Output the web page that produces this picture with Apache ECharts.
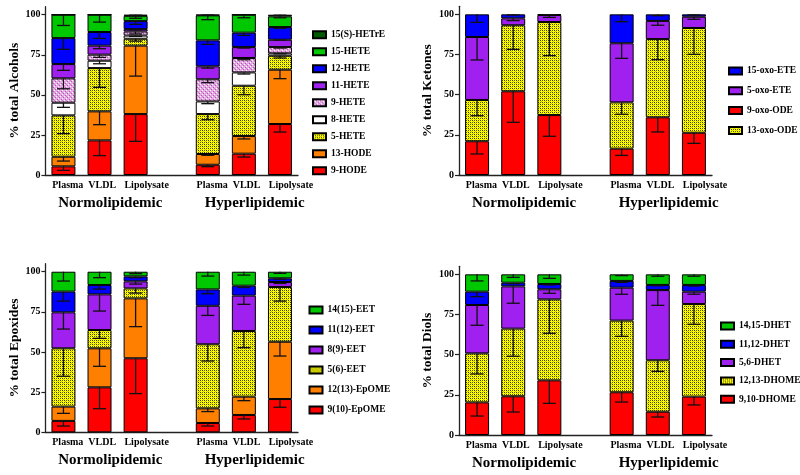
<!DOCTYPE html>
<html><head><meta charset="utf-8">
<script src="https://cdn.jsdelivr.net/npm/echarts@6/dist/echarts.min.js"></script>
<style>html,body{margin:0;padding:0;background:#fff}#c{width:800px;height:475px}</style>
</head><body><div id="c"></div>
<script>
// ---- categories / ticks ----
const cats = ['Plasma','VLDL','Lipolysate','Plasma','VLDL','Lipolysate'];
const catPos = [0,1,2,4,5,6];          // slot index of each bar (slot 3 is the gap)
const slotCount = 7;
const groups = ['Normolipidemic','Hyperlipidemic'];
const groupPos = [1.3,5.3];
const yTicks = [0,25,50,75,100];

// ---- Alcohols (bottom -> top) ----
const alcoholNames = ['9-HODE','13-HODE','5-HETE','8-HETE','9-HETE','11-HETE','12-HETE','15-HETE','15(S)-HETrE'];
const alcoholValues = [
  [5.4,21.6,38.0,6.4,13.3,31.8],
  [6.0,18.1,42.7,6.7,11.0,33.9],
  [25.8,27.0,4.3,24.9,31.4,8.7],
  [7.9,4.6,2.0,7.9,8.3,1.5],
  [15.2,3.8,2.5,13.8,9.0,3.9],
  [8.9,5.6,1.5,8.1,6.8,4.6],
  [16.2,8.5,5.0,16.2,9.0,7.9],
  [14.6,10.8,3.3,15.6,11.2,6.7],
  [0,0,0.7,0.4,0,1.0]
];
const alcoholErrors = [
  [2.5,9.5,17.0,1.2,2.1,5.0],
  [2.7,8.3,19.0,0.8,1.8,5.6],
  [11.4,12.0,1.5,3.5,5.6,1.4],
  [2.9,1.9,0.5,1.4,1.0,0.3],
  [6.5,1.7,1.5,2.1,1.1,0.6],
  [3.9,1.9,0.5,1.1,0.6,0.2],
  [7.0,4.0,2.0,2.5,1.7,0.8],
  [6.7,4.6,1.5,2.7,1.9,0.9],
  [0,0,0.3,0.2,0,0.3]
];
const alcoholLegend = ['15(S)-HETrE','15-HETE','12-HETE','11-HETE','9-HETE','8-HETE','5-HETE','13-HODE','9-HODE'];

// ---- Ketones ----
const ketoneNames = ['9-oxo-ODE','13-oxo-ODE','5-oxo-ETE','15-oxo-ETE'];
const ketoneValues = [
  [21.0,52.1,37.3,16.4,35.9,26.3],
  [25.7,41.1,57.9,28.8,48.7,65.2],
  [39.2,4.3,4.4,36.8,11.3,7.0],
  [14.1,2.5,0.4,18.0,4.1,1.5]
];
const ketoneErrors = [
  [7.9,19.3,13.2,4.2,9.1,6.6],
  [9.8,15.0,20.9,7.4,12.8,16.4],
  [14.3,1.4,1.5,9.4,2.7,1.6],
  [5.0,0.4,0.2,4.6,0.8,0.4]
];
const ketoneLegend = ['15-oxo-ETE','5-oxo-ETE','9-oxo-ODE','13-oxo-ODE'];

// ---- Epoxides ----
const epoxideNames = ['9(10)-EpOME','12(13)-EpOME','5(6)-EET','8(9)-EET','11(12)-EET','14(15)-EET'];
const epoxideValues = [
  [7.1,28.0,46.1,5.8,10.8,20.7],
  [8.9,24.3,37.3,9.1,11.4,35.7],
  [36.3,11.4,6.2,39.9,40.9,34.1],
  [22.4,22.2,4.4,24.0,22.0,3.1],
  [12.9,5.8,3.1,10.2,6.2,2.3],
  [12.4,8.3,2.9,11.0,8.7,4.1]
];
const epoxideErrors = [
  [3.2,13.3,22.0,1.9,2.5,5.1],
  [4.2,11.2,17.6,2.0,2.5,8.9],
  [17.4,5.2,2.9,10.4,10.4,8.8],
  [10.4,10.4,1.7,6.0,5.4,0.9],
  [5.9,2.5,0.8,2.7,1.1,0.5],
  [5.8,3.7,1.2,2.7,2.1,1.0]
];
const epoxideLegend = ['14(15)-EET','11(12)-EET','8(9)-EET','5(6)-EET','12(13)-EpOME','9(10)-EpOME'];

// ---- Diols ----
const diolNames = ['9,10-DHOME','12,13-DHOME','5,6-DHET','11,12-DHET','14,15-DHET'];
const diolValues = [
  [20.3,24.1,34.0,26.6,14.5,23.9],
  [30.5,42.1,50.4,44.6,32.0,57.6],
  [30.1,26.3,6.3,20.5,43.7,7.7],
  [8.3,2.3,3.3,4.2,3.2,4.2],
  [10.8,5.2,6.0,4.1,6.6,6.6]
];
const diolErrors = [
  [8.5,9.8,14.3,6.1,3.3,5.2],
  [12.8,17.2,21.1,9.8,6.9,12.6],
  [12.6,10.5,2.5,4.1,9.5,1.6],
  [3.1,0.6,0.6,0.9,0.5,0.7],
  [4.1,1.9,2.5,0.8,1.2,1.2]
];
const diolLegend = ['14,15-DHET','11,12-DHET','5,6-DHET','12,13-DHOME','9,10-DHOME'];

// ---- styles ----
function pattern(bg, dots) {
  const c = document.createElement('canvas'); c.width = 4; c.height = 4;
  const g = c.getContext('2d'); g.fillStyle = bg; g.fillRect(0,0,4,4);
  dots.forEach(d => { g.fillStyle = d[2]; g.fillRect(d[0], d[1], 1, 1); });
  return {image: c, repeat: 'repeat'};
}
const RED='#FF0000', ORANGE='#FF8000', PURPLE='#A020F0', BLUE='#0000FF', GREEN='#00C800', DKGREEN='#005A00';
const YPAT = pattern('#FFFF00', [[0,0,'#3A3A00'],[2,2,'#3A3A00'],[2,0,'#5A5A00'],[0,2,'#5A5A00'],[1,1,'#C8C800'],[3,3,'#C8C800']]);
const PPAT = pattern('#E8A8E8', [[0,0,'#FFFFFF'],[2,2,'#FFFFFF'],[1,3,'#A860A8'],[3,1,'#A860A8'],[2,0,'#C888C8']]);
const FONT = '"Liberation Serif","Times New Roman",serif';

const panels = [
  {names: alcoholNames, values: alcoholValues, errors: alcoholErrors, legend: alcoholLegend,
   colors: [RED, ORANGE, YPAT, '#FFFFFF', PPAT, PURPLE, BLUE, GREEN, DKGREEN],
   yName: '% total Alcohols', grid: {left: 45.4, right: 502, top: 6.7, bottom: 300},
   lg: {left: 307, top: 24.7, gap: 7}},
  {names: ketoneNames, values: ketoneValues, errors: ketoneErrors, legend: ketoneLegend,
   colors: [RED, YPAT, PURPLE, BLUE],
   yName: '% total Ketones', grid: {left: 459, right: 88, top: 6.3, bottom: 300},
   lg: {left: 723, top: 61, gap: 9.8}},
  {names: epoxideNames, values: epoxideValues, errors: epoxideErrors, legend: epoxideLegend,
   colors: [RED, ORANGE, YPAT, PURPLE, BLUE, GREEN],
   yName: '% total Epoxides', grid: {left: 45.4, right: 502, top: 263.7, bottom: 42.7},
   lg: {left: 303.5, top: 300, gap: 10}},
  {names: diolNames, values: diolValues, errors: diolErrors, legend: diolLegend,
   colors: [RED, YPAT, PURPLE, BLUE, GREEN],
   yName: '% total Diols', grid: {left: 459, right: 88, top: 266.3, bottom: 40},
   lg: {left: 715, top: 316, gap: 8.3}}
];

const LABEL_SHIFT = 0.31;
const slots = Array.from({length: slotCount}, (_, i) => 's' + i);
const option = {animation: false, backgroundColor: '#fff', grid: [], xAxis: [], yAxis: [], series: [], legend: []};

panels.forEach((P, g) => {
  option.grid.push(Object.assign({containLabel: false}, P.grid));
  // bar axis (category, hidden)
  option.xAxis.push({type: 'category', gridIndex: g, data: slots, show: false, position: 'bottom'});
  // labels + axis line
  option.xAxis.push({
    type: 'value', gridIndex: g, min: -0.5, max: slotCount - 0.5, position: 'bottom',
    axisLine: {show: true, onZero: false, lineStyle: {color: '#222', width: 1.3}},
    axisTick: {show: false}, splitLine: {show: false},
    axisLabel: {
      customValues: catPos.map(p => p - LABEL_SHIFT), align: 'left', margin: 5.5,
      fontFamily: FONT, fontWeight: 'bold', fontSize: 10, color: '#000',
      formatter: v => { const i = catPos.findIndex(p => Math.abs(p - LABEL_SHIFT - v) < 0.05); return i >= 0 ? cats[i] : ''; }
    }
  });
  // group labels
  option.xAxis.push({
    type: 'value', gridIndex: g, min: -0.5, max: slotCount - 0.5, position: 'bottom',
    axisLine: {show: false, onZero: false}, axisTick: {show: false}, splitLine: {show: false},
    axisLabel: {
      customValues: groupPos, margin: 20.5,
      fontFamily: FONT, fontWeight: 'bold', fontSize: 15, color: '#000',
      formatter: v => { const i = groupPos.findIndex(p => Math.abs(p - v) < 0.05); return i >= 0 ? groups[i] : ''; }
    }
  });
  option.yAxis.push({
    type: 'value', gridIndex: g, min: 0, max: 105, position: 'left',
    name: P.yName, nameLocation: 'middle', nameGap: 24,
    nameTextStyle: {fontFamily: FONT, fontWeight: 'bold', fontSize: 13.5, color: '#000'},
    axisLine: {show: true, onZero: false, lineStyle: {color: '#222', width: 1.3}},
    axisTick: {show: true, length: 4, customValues: yTicks, lineStyle: {color: '#222', width: 1.2}},
    splitLine: {show: false},
    axisLabel: {customValues: yTicks, margin: 5, fontFamily: FONT, fontWeight: 'bold', fontSize: 10, color: '#000'}
  });
  const cum = catPos.map(() => 0);
  const errData = [];
  P.names.forEach((name, s) => {
    const vals = P.values[s];
    const data = slots.map(() => '-');
    catPos.forEach((p, i) => { data[p] = vals[i]; });
    option.series.push({
      type: 'bar', name: name, stack: 'st' + g, xAxisIndex: 3 * g, yAxisIndex: g,
      barWidth: 24,
      itemStyle: {color: P.colors[s], borderColor: '#000', borderWidth: 1},
      emphasis: {disabled: true},
      data: data
    });
    catPos.forEach((p, i) => {
      cum[i] += vals[i];
      if (P.errors[s][i] > 0) errData.push([p, cum[i], cum[i] - P.errors[s][i]]);
    });
  });
  option.series.push({
    type: 'custom', name: 'err' + g, xAxisIndex: 3 * g + 1, yAxisIndex: g, z: 10,
    encode: {x: 0, y: [1, 2]},
    renderItem: (params, api) => {
      const a = api.coord([api.value(0), api.value(1)]);
      const b = api.coord([api.value(0), api.value(2)]);
      const st = {stroke: '#111', lineWidth: 1.3};
      return {type: 'group', children: [
        {type: 'line', shape: {x1: a[0], y1: a[1], x2: b[0], y2: b[1]}, style: st},
        {type: 'line', shape: {x1: b[0] - 6.5, y1: b[1], x2: b[0] + 6.5, y2: b[1]}, style: st}
      ]};
    },
    data: errData
  });
  option.legend.push({
    orient: 'vertical', left: P.lg.left, top: P.lg.top, itemGap: P.lg.gap,
    itemWidth: 13, itemHeight: 7, itemTextGap: 6, icon: 'rect', selectedMode: false,
    data: P.legend,
    textStyle: {fontFamily: FONT, fontWeight: 'bold', fontSize: 9.5, lineHeight: 10, color: '#000'}
  });
});

const chart = echarts.init(document.getElementById('c'), null, {renderer: 'canvas'});
chart.setOption(option);
</script></body></html>
